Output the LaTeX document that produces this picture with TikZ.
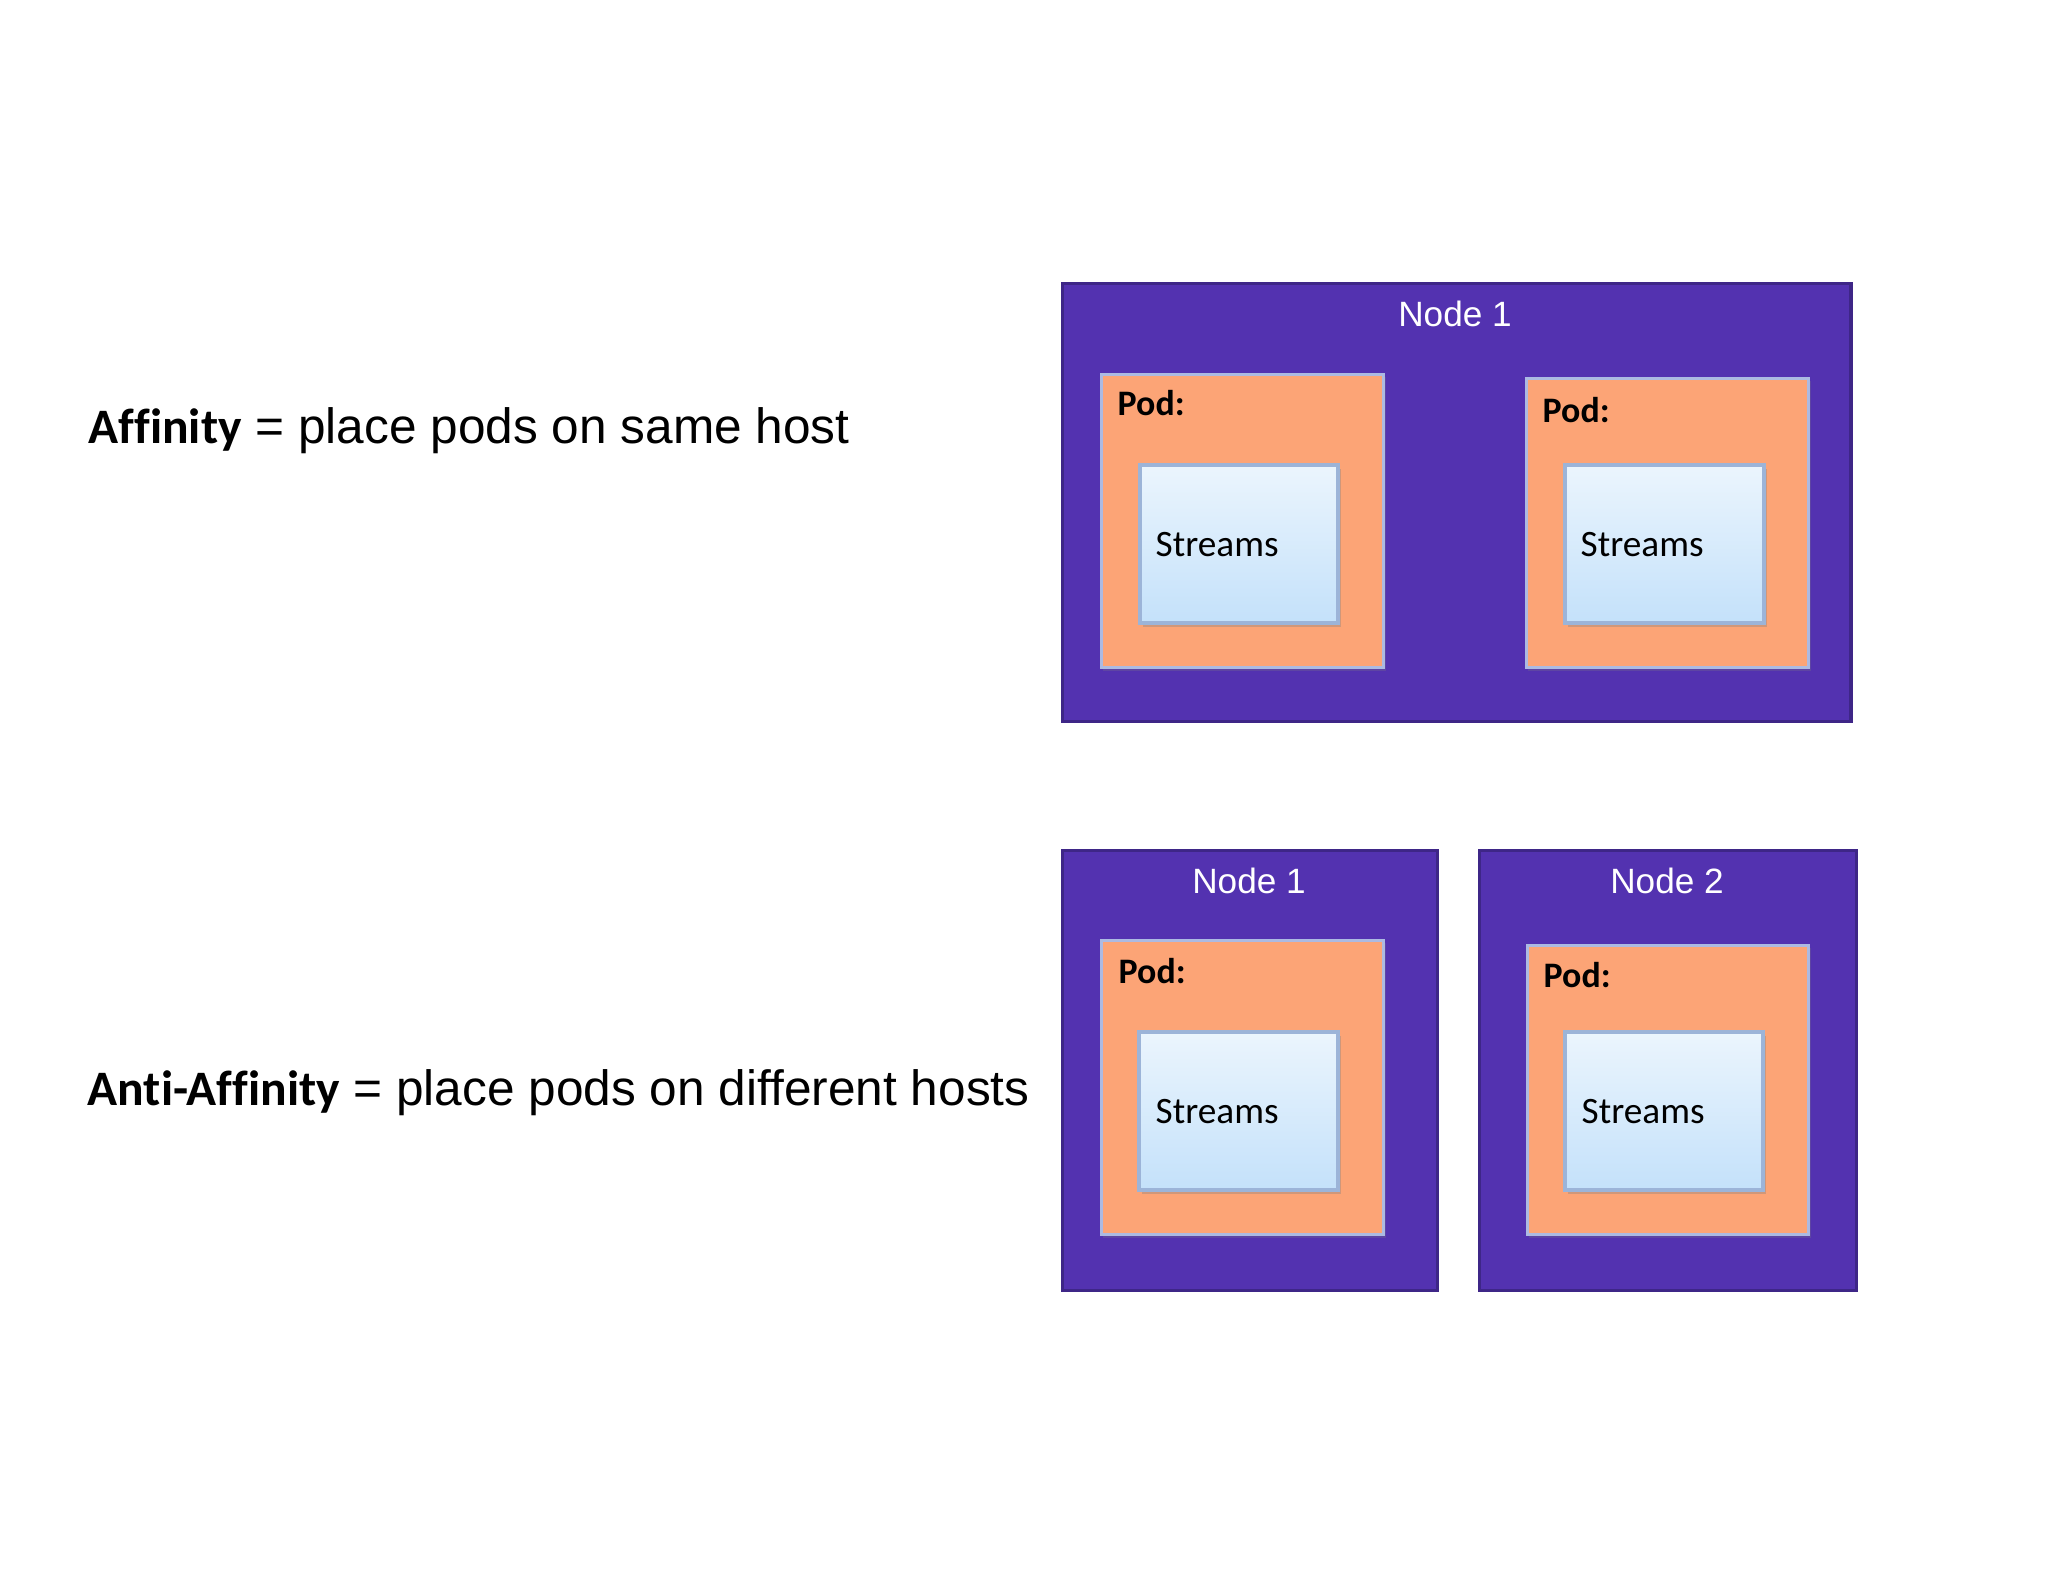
\documentclass[tikz,border=0pt]{standalone}
\usepackage{fontspec}
\setmainfont{Liberation Sans}
\newfontfamily\calibri[Ligatures=NoCommon]{Carlito}
\usetikzlibrary{shadows}
\definecolor{hostpurple}{RGB}{83,50,176}
\definecolor{hostedge}{RGB}{62,38,135}
\definecolor{podorange}{RGB}{252,164,118}
\definecolor{podedge}{RGB}{172,186,226}
\definecolor{streamtop}{RGB}{235,245,253}
\definecolor{streambot}{RGB}{196,225,250}
\definecolor{streamedge}{RGB}{156,180,216}
\begin{document}
\begin{tikzpicture}[x=0.01cm,y=-0.01cm,
	host/.style={draw=hostedge,fill=hostpurple,line width=0.9pt,anchor=north west,inner sep=0pt},
	pod/.style={draw=podedge,fill=podorange,line width=0.8pt,anchor=north west,inner sep=0pt,
		drop shadow={shadow xshift=0.2mm,shadow yshift=-0.3mm,opacity=0.25}},
	streams/.style={draw=streamedge,top color=streamtop,bottom color=streambot,line width=1.2pt,anchor=north west,inner sep=0pt,
		drop shadow={shadow xshift=0.3mm,shadow yshift=-0.4mm,opacity=0.35}},
	hostlabel/.style={text=white,font=\fontsize{10}{12}\selectfont,anchor=base,inner sep=0pt},
	podlabel/.style={font=\calibri\bfseries\fontsize{10.2}{12}\selectfont,anchor=base west,inner sep=0pt},
	streamlabel/.style={font=\calibri\fontsize{10.6}{13}\selectfont,anchor=base west,inner sep=0pt},
	rulelabel/.style={font=\fontsize{14.1}{17}\selectfont,anchor=base west,inner sep=0pt}]
	\useasboundingbox (0,0) rectangle (2048,1582);
	% Rules
	\node[rulelabel] (affinity) at (88,443) {{\calibri\bfseries Affinity} = place pods on same host};
	\node[rulelabel] (antiaffinity) at (87,1105) {{\calibri\bfseries Anti-Affinity} = place pods on different hosts};
	% Affinity: one host
	\node[host,minimum width=7.88cm,minimum height=4.38cm] (hostA) at (1061,282) {};
	\node[hostlabel] (hostAlabel) at (1455,327) {Node 1};
	\node[pod,minimum width=2.82cm,minimum height=2.93cm] (podA) at (1100,373) {};
	\node[podlabel] (podAlabel) at (1117,416) {Pod:};
	\node[streams,minimum width=1.98cm,minimum height=1.58cm] (streamsA) at (1138,463) {};
	\node[streamlabel] (streamsAlabel) at (1155,556) {Streams};
	\node[pod,minimum width=2.82cm,minimum height=2.89cm] (podB) at (1525,377) {};
	\node[podlabel] (podBlabel) at (1542,422) {Pod:};
	\node[streams,minimum width=1.99cm,minimum height=1.58cm] (streamsB) at (1563,463) {};
	\node[streamlabel] (streamsBlabel) at (1580,556) {Streams};
	% Anti-Affinity: two hosts
	\node[host,minimum width=3.75cm,minimum height=4.40cm] (hostC) at (1061,849) {};
	\node[hostlabel] (hostClabel) at (1249,893) {Node 1};
	\node[pod,minimum width=2.82cm,minimum height=2.94cm] (podC) at (1100,939) {};
	\node[podlabel] (podClabel) at (1118,983) {Pod:};
	\node[streams,minimum width=1.99cm,minimum height=1.58cm] (streamsC) at (1137,1030) {};
	\node[streamlabel] (streamsClabel) at (1155,1123) {Streams};
	\node[host,minimum width=3.77cm,minimum height=4.40cm] (hostD) at (1478,849) {};
	\node[hostlabel] (hostDlabel) at (1667,893) {Node 2};
	\node[pod,minimum width=2.81cm,minimum height=2.89cm] (podD) at (1526,944) {};
	\node[podlabel] (podDlabel) at (1543,987) {Pod:};
	\node[streams,minimum width=1.98cm,minimum height=1.58cm] (streamsD) at (1563,1030) {};
	\node[streamlabel] (streamsDlabel) at (1581,1123) {Streams};
\end{tikzpicture}
\end{document}
